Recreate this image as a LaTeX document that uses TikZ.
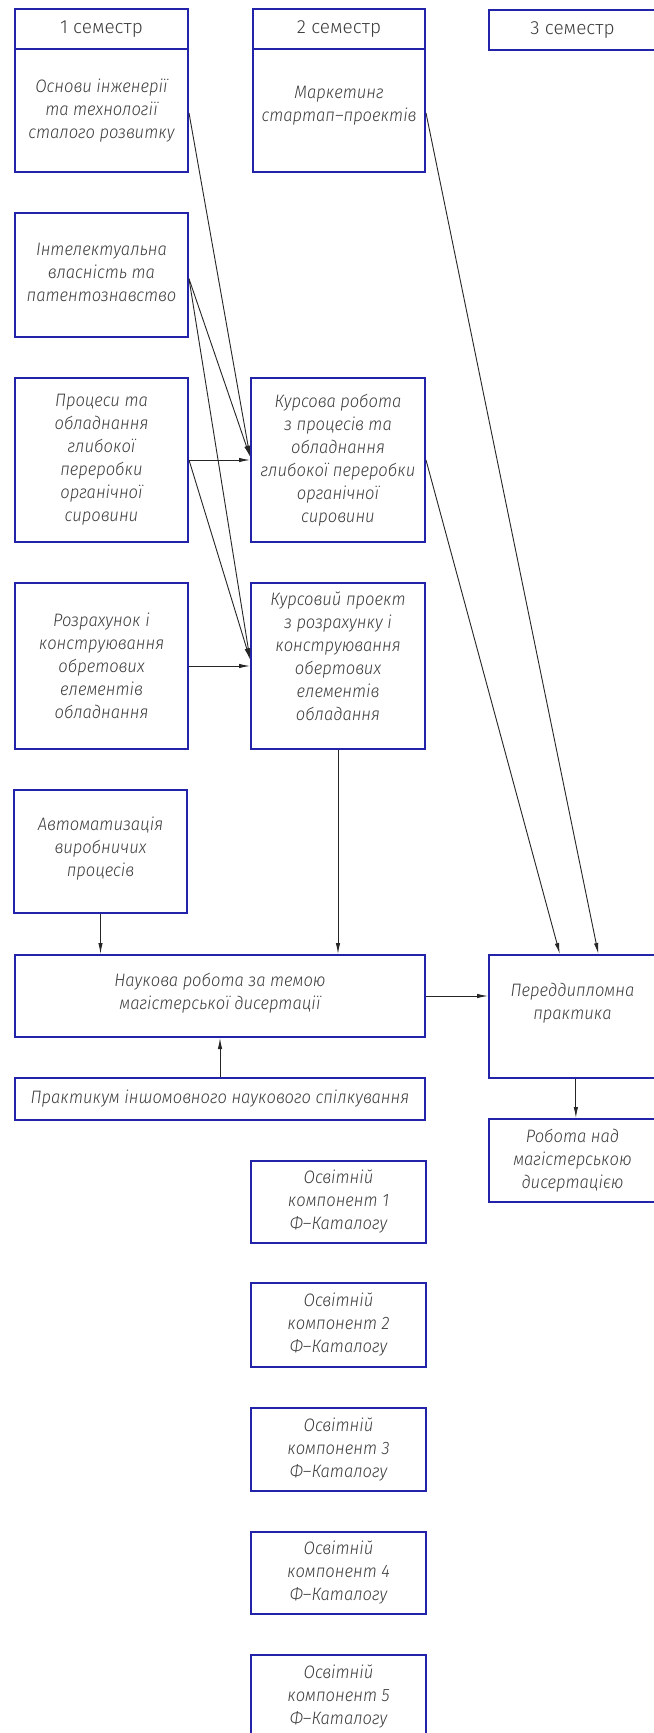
\documentclass[tikz,border=0pt]{standalone}
\usepackage{fontspec}
\newfontfamily\gost{Fira Sans Light Italic}[FakeStretch=0.92]
\newfontfamily\gostup{Fira Sans Light}
\usetikzlibrary{arrows.meta,calc}
\definecolor{boxblue}{RGB}{35,35,170}
\definecolor{txt}{RGB}{60,60,60}
\newcommand\lowpad[1]{\rule[-#1]{0pt}{#1}}
\begin{document}
\begin{tikzpicture}[x=0.5pt,y=-0.5pt,
  blk/.style={draw=boxblue, line width=1pt, inner sep=0pt, align=center, text=txt,
    font=\gost\fontsize{9}{11.5}\selectfont},
  hdr/.style={blk, font=\gostup\fontsize{9.5}{11}\selectfont},
  sz/.style 2 args={minimum width=#1*0.5pt, minimum height=#2*0.5pt},
  conn/.style={draw=black!85, line width=0.45pt},
  arr/.style={conn, -{Latex[length=5.5pt,width=2.2pt]}}]

\useasboundingbox[fill=white] (0,0) rectangle (653,1733);

% column 1
\node[hdr, sz={173}{40}] (h1) at (101.5,29) {1 семестр};
\node[blk, sz={173}{123}] (b1) at (101.5,110.5) {Основи інженерії\\ та технології\\ сталого розвитку};
\node[blk, sz={173}{124}] (i1) at (101.5,275) {Інтелектуальна\\ власність та\\ патентознавство\lowpad{3pt}};
\node[blk, sz={173}{164}] (p1) at (101.5,460) {Процеси та\\ обладнання\\ глибокої\\ переробки\\ органічної\\ сировини};
\node[blk, sz={173}{166}] (r1) at (101.5,666) {Розрахунок і\\ конструювання\\ обретових\\ елементів\\ обладнання};
\node[blk, sz={173}{123}] (a1) at (100.5,851.5) {Автоматизація\\ виробничих\\ процесів\lowpad{5pt}};
\node[blk, sz={410}{82}] (n1) at (220,996) {Наукова робота за темою\\ магістерської дисертації\lowpad{5pt}};
\node[blk, sz={410}{42}] (pr) at (220,1099) {Практикум іншомовного наукового спілкування};

% column 2
\node[hdr, sz={172}{40}] (h2) at (339,29) {2 семестр};
\node[blk, sz={172}{123}] (b2) at (339,110.5) {Маркетинг\\ стартап–проектів\lowpad{7pt}};
\node[blk, sz={174}{164}] (k1) at (338,460) {Курсова робота\\ з процесів та\\ обладнання\\ глибокої переробки\\ органічної\\ сировини};
\node[blk, sz={174}{166}] (k2) at (338,666) {Курсовий проект\\ з розрахунку і\\ конструювання\\ обертових\\ елементів\\ обладання\lowpad{10pt}};
\node[blk, sz={175}{82}] (o1) at (338.5,1202) {Освітній\\ компонент 1\\ Ф–Каталогу};
\node[blk, sz={175}{84}] (o2) at (338.5,1325) {Освітній\\ компонент 2\\ Ф–Каталогу};
\node[blk, sz={175}{83}] (o3) at (338.5,1449.5) {Освітній\\ компонент 3\\ Ф–Каталогу};
\node[blk, sz={175}{82}] (o4) at (338.5,1573) {Освітній\\ компонент 4\\ Ф–Каталогу};
\node[blk, sz={175}{83}] (o5) at (338.5,1696.5) {Освітній\\ компонент 5\\ Ф–Каталогу};

% column 3
\node[hdr, sz={167}{40}] (h3) at (572.5,30) {3 семестр};
\node[blk, sz={167}{123}] (pd) at (572.5,1016.5) {Переддипломна\\ практика\lowpad{15pt}};
\node[blk, sz={167}{83}] (rm) at (572.5,1160.5) {Робота над\\ магістерською\\ дисертацією};

% connector end points on borders
\coordinate (b1o) at ($(b1.north east)!0.52!(b1.south east)$);
\coordinate (i1o) at ($(i1.north east)!0.53!(i1.south east)$);
\coordinate (b2o) at ($(b2.north east)!0.52!(b2.south east)$);
\coordinate (k1i) at ($(k1.north west)!0.48!(k1.south west)$);
\coordinate (k2i) at ($(k2.north west)!0.46!(k2.south west)$);
\coordinate (pdA) at ($(pd.north west)!0.425!(pd.north east)$);
\coordinate (pdB) at ($(pd.north west)!0.653!(pd.north east)$);
\coordinate (pdS) at ($(pd.south west)!0.52!(pd.south east)$);

\draw[arr] (b1o) -- (k1i);
\draw[arr] (i1o) -- (k1i);
\draw[arr] (i1o) -- (k2i);
\draw[arr] (p1.east) -- (k1.west);
\draw[arr] (p1.east) -- (k2i);
\draw[arr] (r1.east) -- (k2.west);
\draw[arr] (b2o) -- (pdB);
\draw[arr] (k1.east) -- (pdA);
\draw[arr] (k2.south) -- (k2.south |- n1.north);
\draw[arr] (a1.south) -- (a1.south |- n1.north);
\draw[arr] (pr.north) -- (n1.south);
\draw[arr] (n1.east) -- (n1.east -| pd.west);
\draw[arr] (pdS) -- (pdS |- rm.north);
\end{tikzpicture}
\end{document}
